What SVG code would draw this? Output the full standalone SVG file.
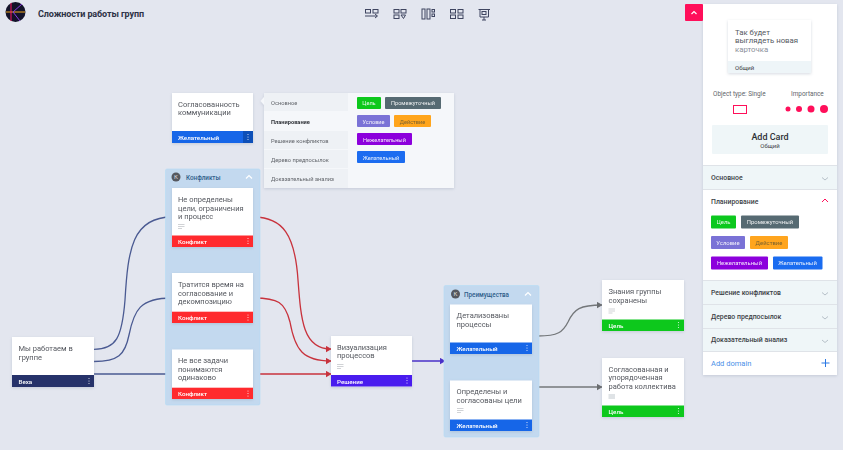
<svg xmlns="http://www.w3.org/2000/svg" width="843" height="450" viewBox="0 0 843 450">
<style>
text{font-family:Roboto,"Liberation Sans",sans-serif}
.t{font-size:7.5px;fill:#55585f}
.n{font-size:7.8px;fill:#55585f}
.f{font-size:6.2px;font-weight:500;fill:#fff}
.card{fill:#fff}
.dot{fill:#fff;opacity:.85}
.gh{fill:#c3d9ef;stroke:#b4dcf5;stroke-width:.6}
.gt{font-size:6.3px;font-weight:500;fill:#2f5d8a}
.gk{fill:#55585f}
.gkt{font-size:6px;fill:#ddd;text-anchor:middle}
.lines{stroke:#c5c8cc;stroke-width:.8}
.c{fill:none;stroke-width:1.3}
.b{stroke:#4a5a92}.r{stroke:#c8323c}.p{stroke:#4a30c8}.g{stroke:#74777a}
.tag{font-size:5.6px;fill:#fff;text-anchor:middle;opacity:.9}
.tg2{font-size:5.9px;fill:#fff;text-anchor:middle;opacity:.9}
.m{font-size:5.7px;fill:#62656b}
.s{font-size:6.9px;font-weight:500;fill:#3c3f46}
.chev{fill:none;stroke:#b6c0c8;stroke-width:1}
.sep{stroke:#dfe3e8;stroke-width:1}
.ic{fill:none;stroke:#3f4560;stroke-width:1}
</style>
<defs>
<marker id="ab" markerWidth="6" markerHeight="6" refX="4" refY="2.5" orient="auto"><path d="M0 0L4.500 2.500L0 5z" fill="#3e4f8e"/></marker>
<marker id="ar" markerWidth="6" markerHeight="6" refX="4" refY="2.5" orient="auto"><path d="M0 0L4.500 2.500L0 5z" fill="#c8323c"/></marker>
<marker id="ap" markerWidth="6" markerHeight="6" refX="4" refY="2.5" orient="auto"><path d="M0 0L4.500 2.500L0 5z" fill="#4a30c8"/></marker>
<marker id="ag" markerWidth="6" markerHeight="6" refX="4" refY="2.5" orient="auto"><path d="M0 0L4.500 2.500L0 5z" fill="#6a6d70"/></marker>
<filter id="sh" x="-10%" y="-10%" width="120%" height="125%"><feDropShadow dx="0" dy="1" stdDeviation="1.500" flood-color="#8c96aa" flood-opacity=".35"/></filter>
</defs>
<rect width="843" height="450" fill="#e3e6ef"/>

<g id="header">
<circle cx="15.500" cy="12" r="10" fill="#13132a"/>
<path d="M6 12H25" stroke="#f2a71b" stroke-width="1" fill="none"/>
<path d="M11 3V21" stroke="#ff1460" stroke-width="1" fill="none"/>
<path d="M22 4L13 12L20 21" stroke="#8a3ce0" stroke-width="1" fill="none"/>
<text x="38" y="17" font-size="9" font-weight="700" fill="#2c3145" textLength="106" lengthAdjust="spacing">Сложности работы групп</text>
<g class="ic">
<rect x="365.500" y="9.500" width="5" height="3.500"/><rect x="373" y="9.500" width="5" height="3.500"/><path d="M365 16H377M375 14L377.500 16L375 18"/>
<rect x="394" y="9.500" width="5" height="3.500"/><rect x="401" y="9.500" width="5" height="3.500"/><rect x="394" y="15" width="5" height="3.500"/><path d="M401 15H405.500L403.500 18.500Z"/>
<rect x="422" y="9" width="3" height="10"/><rect x="427" y="9" width="3" height="10"/><rect x="432" y="9.500" width="2.500" height="2.500"/><rect x="432" y="14" width="2.500" height="2.500"/>
<rect x="450.500" y="9.500" width="5" height="3.500"/><rect x="458" y="9.500" width="5" height="3.500"/><rect x="450.500" y="15" width="5" height="3.500"/><rect x="458" y="15" width="5" height="3.500"/>
<path d="M478.500 9.500H490M480 9.500V17H488.500V9.500M484 17V20M482 20H486"/><rect x="482" y="11.500" width="4" height="3"/>
</g>
</g>

<g id="connectors">
<path class="c b" marker-end="url(#ab)" d="M94 349.300C116 349.300 122 338 125 300C128 250 132 217 172 217"/>
<path class="c b" marker-end="url(#ab)" d="M94 361.500C118 361.500 125 355 129 335C134 310 140 298 172 298"/>
<path class="c b" marker-end="url(#ab)" d="M94 374H172"/>
<path class="c r" marker-end="url(#ar)" d="M253 217C283 217 295 235 298 280C301 320 303 349 331 349"/>
<path class="c r" marker-end="url(#ar)" d="M253 298C278 298 285 302 290 322C295 350 303 361 331 361"/>
<path class="c r" marker-end="url(#ar)" d="M253 374H331"/>
<path class="c p" marker-end="url(#ap)" d="M412 361H445"/>
<path class="c g" marker-end="url(#ag)" d="M538 336C558 336 563 332 568 322C574 309 580 305 602 305"/>
<path class="c g" marker-end="url(#ag)" d="M538 387H602"/>
</g>

<g id="card-soglasovannost" filter="url(#sh)">
<rect class="card" x="172" y="93" width="81" height="50"/>
<text class="t"><tspan x="178" y="106.500">Согласованность</tspan><tspan x="178" y="115">коммуникации</tspan></text>
<rect x="172" y="131" width="81" height="12" fill="#1766e8"/><rect x="243" y="131" width="10" height="12" fill="#0f4fb8"/>
<text class="f" x="178" y="139.500">Желательный</text>
<circle class="dot" cx="248" cy="134.500" r=".6"/><circle class="dot" cx="248" cy="137" r=".6"/><circle class="dot" cx="248" cy="139.500" r=".6"/>
</g>

<g id="popup" filter="url(#sh)">
<path d="M264 93H454V188H264V105L260.500 101L264 97Z" fill="#f5f7fa"/>
<rect x="264" y="93" width="84" height="18" fill="#eef1f5"/>
<rect x="264" y="131" width="84" height="18" fill="#eef1f5"/>
<rect x="264" y="150" width="84" height="18" fill="#eef1f5"/>
<rect x="264" y="169" width="84" height="19" fill="#eef1f5"/>
<text class="m" x="271" y="104.500">Основное</text>
<text class="m" x="271" y="124" font-weight="700" style="fill:#33363c">Планирование</text>
<text class="m" x="271" y="143">Решение конфликтов</text>
<text class="m" x="271" y="162">Дерево предпосылок</text>
<text class="m" x="271" y="181">Доказательный анализ</text>
<rect x="357" y="97" width="24" height="12" rx="1" fill="#0cc81e"/><text class="tag" x="369" y="105">Цель</text>
<rect x="385" y="97" width="56" height="12" rx="1" fill="#566a72"/><text class="tag" x="413" y="105">Промежуточный</text>
<rect x="357" y="115" width="33" height="12" rx="1" fill="#7a72d6"/><text class="tag" x="373.500" y="123.500">Условие</text>
<rect x="394" y="115" width="37" height="12" rx="1" fill="#ffa51e"/><text class="tag" x="412.500" y="123.500" style="fill:#6a5a30">Действие</text>
<rect x="357" y="133" width="55" height="12" rx="1" fill="#8c00dc"/><text class="tag" x="384.500" y="141.500">Нежелательный</text>
<rect x="357" y="151" width="48" height="12" rx="1" fill="#1a6cf0"/><text class="tag" x="381" y="159.500">Желательный</text>
</g>

<g id="group-konflikty">
<rect class="gh" x="165.500" y="169" width="94.500" height="236" rx="1.500"/>
<circle class="gk" cx="176" cy="177" r="4.500"/><text class="gkt" x="176" y="179">К</text>
<text class="gt" x="186" y="179.500">Конфликты</text>
<path d="M246 178.500L249 175.500L252 178.500" fill="none" stroke="#fff" stroke-width="1.200"/>
</g>
<g id="card-1" filter="url(#sh)">
<rect class="card" x="172" y="188" width="81" height="59"/>
<text class="t"><tspan x="178" y="202">Не определены</tspan><tspan x="178" y="210.500">цели, ограничения</tspan><tspan x="178" y="219">и процесс</tspan></text>
<path class="lines" d="M178 224.500H184.500M178 226.500H184.500M178 228.500H182"/>
<rect x="172" y="235.500" width="81" height="11.500" fill="#ff2a2e"/><text class="f" x="178" y="243.500">Конфликт</text>
<circle class="dot" cx="248" cy="238.500" r=".6"/><circle class="dot" cx="248" cy="241" r=".6"/><circle class="dot" cx="248" cy="243.500" r=".6"/>
</g>
<g id="card-2" filter="url(#sh)">
<rect class="card" x="172" y="273" width="81" height="50"/>
<text class="t"><tspan x="178" y="287">Тратится время на</tspan><tspan x="178" y="295.500">согласование и</tspan><tspan x="178" y="304">декомпозицию</tspan></text>
<rect x="172" y="311.700" width="81" height="11.300" fill="#ff2a2e"/><text class="f" x="178" y="320">Конфликт</text>
<circle class="dot" cx="248" cy="315" r=".6"/><circle class="dot" cx="248" cy="317.500" r=".6"/><circle class="dot" cx="248" cy="320" r=".6"/>
</g>
<g id="card-3" filter="url(#sh)">
<rect class="card" x="172" y="349.500" width="81" height="49.500"/>
<text class="t"><tspan x="178" y="363">Не все задачи</tspan><tspan x="178" y="371.500">понимаются</tspan><tspan x="178" y="380">одинаково</tspan></text>
<rect x="172" y="387.700" width="81" height="11.300" fill="#ff2a2e"/><text class="f" x="178" y="396">Конфликт</text>
<circle class="dot" cx="248" cy="391" r=".6"/><circle class="dot" cx="248" cy="393.500" r=".6"/><circle class="dot" cx="248" cy="396" r=".6"/>
</g>

<g id="card-veha" filter="url(#sh)">
<rect class="card" x="12" y="337" width="82" height="50"/>
<text class="t"><tspan x="18.500" y="351">Мы работаем в</tspan><tspan x="18.500" y="359.500">группе</tspan></text>
<rect x="12" y="375" width="82" height="12" fill="#25336b"/><text class="f" x="18.500" y="383.500">Веха</text>
<circle class="dot" cx="89" cy="378.500" r=".6"/><circle class="dot" cx="89" cy="381" r=".6"/><circle class="dot" cx="89" cy="383.500" r=".6"/>
</g>

<g id="card-reshenie" filter="url(#sh)">
<rect class="card" x="331" y="336" width="81" height="50.500"/>
<text class="t"><tspan x="337" y="349.500">Визуализация</tspan><tspan x="337" y="358">процессов</tspan></text>
<path class="lines" d="M337 364.500H343.500M337 366.500H343.500M337 368.500H341"/>
<rect x="331" y="375" width="81" height="11.500" fill="#4a1aee"/><text class="f" x="337" y="383.500">Решение</text>
<circle class="dot" cx="407" cy="378" r=".6"/><circle class="dot" cx="407" cy="380.500" r=".6"/><circle class="dot" cx="407" cy="383" r=".6"/>
</g>

<g id="group-preimushchestva">
<rect class="gh" x="444" y="285.500" width="95" height="151.500" rx="1.500"/>
<circle class="gk" cx="455.500" cy="294" r="4.500"/><text class="gkt" x="455.500" y="296">К</text>
<text class="gt" x="464" y="296.500">Преимущества</text>
<path d="M525 295.500L528 292.500L531 295.500" fill="none" stroke="#fff" stroke-width="1.200"/>
</g>
<g id="card-4" filter="url(#sh)">
<rect class="card" x="450" y="304.500" width="82" height="49.500"/>
<text class="t"><tspan x="456.500" y="318">Детализованы</tspan><tspan x="456.500" y="326.500">процессы</tspan></text>
<rect x="450" y="342.500" width="82" height="11.500" fill="#1766e8"/><text class="f" x="456.500" y="351">Желательный</text>
<circle class="dot" cx="527" cy="345.500" r=".6"/><circle class="dot" cx="527" cy="348" r=".6"/><circle class="dot" cx="527" cy="350.500" r=".6"/>
</g>
<g id="card-5" filter="url(#sh)">
<rect class="card" x="450" y="380.500" width="82" height="50.500"/>
<text class="t"><tspan x="456.500" y="394">Определены и</tspan><tspan x="456.500" y="403">согласованы цели</tspan></text>
<path class="lines" d="M457 408.500H463.500M457 410.500H463.500M457 412.500H461"/>
<rect x="450" y="419.500" width="82" height="11.500" fill="#1766e8"/><text class="f" x="456.500" y="428">Желательный</text>
<circle class="dot" cx="527" cy="422.500" r=".6"/><circle class="dot" cx="527" cy="425" r=".6"/><circle class="dot" cx="527" cy="427.500" r=".6"/>
</g>

<g id="card-6" filter="url(#sh)">
<rect class="card" x="602" y="280" width="82" height="51"/>
<text class="t"><tspan x="608.500" y="294">Знания группы</tspan><tspan x="608.500" y="302.500">сохранены</tspan></text>
<path class="lines" d="M608.500 309H615M608.500 311H615M608.500 313H612.500"/>
<rect x="602" y="319.500" width="82" height="11.500" fill="#0cc81e"/><text class="f" x="608.500" y="328">Цель</text>
<circle class="dot" cx="678.500" cy="322.500" r=".6"/><circle class="dot" cx="678.500" cy="325" r=".6"/><circle class="dot" cx="678.500" cy="327.500" r=".6"/>
</g>
<g id="card-7" filter="url(#sh)">
<rect class="card" x="602" y="358" width="82" height="59"/>
<text class="t"><tspan x="608.500" y="371.500">Согласованная и</tspan><tspan x="608.500" y="380">упорядоченная</tspan><tspan x="608.500" y="388.500">работа коллектива</tspan></text>
<rect x="608.500" y="394" width="6.500" height="5" fill="#dfe3e6"/>
<rect x="602" y="405.500" width="82" height="11.500" fill="#0cc81e"/><text class="f" x="608.500" y="414">Цель</text>
<circle class="dot" cx="678.500" cy="408.500" r=".6"/><circle class="dot" cx="678.500" cy="411" r=".6"/><circle class="dot" cx="678.500" cy="413.500" r=".6"/>
</g>

<g id="panel">
<rect x="703" y="4" width="134" height="371" fill="#fff" filter="url(#sh)"/>
<rect x="685" y="4" width="18" height="17" rx="1" fill="#ff0f5a"/>
<path d="M691.500 14L694 11.500L696.500 14" fill="none" stroke="#fff" stroke-width="1.200"/>
<g filter="url(#sh)"><rect x="728" y="20" width="83" height="53" fill="#fff"/><rect x="728" y="61" width="83" height="12" fill="#eef5f8"/></g>
<text class="n"><tspan x="735" y="34.500">Так будет</tspan><tspan x="735" y="43">выглядеть новая</tspan><tspan x="735" y="51.500" style="fill:#8b8f9a">карточка</tspan></text>
<text x="735" y="70" font-size="6" fill="#3c3f46">Общий</text>
<text x="713" y="96" font-size="6.400" fill="#62656b">Object type: Single</text>
<text x="791" y="96" font-size="6.400" fill="#62656b">Importance</text>
<rect x="733.500" y="105.500" width="13" height="8" fill="#fff" stroke="#ff0f5a"/>
<circle cx="788" cy="109" r="2.500" fill="#ff0f5a"/><circle cx="799" cy="109" r="3" fill="#ff0f5a"/><circle cx="811" cy="109" r="3.500" fill="#ff0f5a"/><circle cx="824" cy="109" r="4" fill="#ff0f5a"/>
<rect x="712" y="125" width="116" height="29" rx="1" fill="#eff6f8"/>
<text x="770" y="140" font-size="9" font-weight="500" fill="#2e3036" text-anchor="middle">Add Card</text>
<text x="770" y="148" font-size="6" fill="#3c3f46" text-anchor="middle">Общий</text>
<rect x="703" y="165" width="134" height="24" fill="#eff6f8"/>
<rect x="703" y="280" width="134" height="24" fill="#eff6f8"/>
<rect x="703" y="304" width="134" height="24" fill="#eff6f8"/>
<rect x="703" y="328" width="134" height="23" fill="#eff6f8"/>
<path class="sep" d="M703 165.500H837M703 189.500H837M703 280.500H837M703 304.500H837M703 328.500H837M703 351.500H837"/>
<text class="s" x="711" y="180">Основное</text>
<text class="s" x="711" y="204">Планирование</text>
<text class="s" x="711" y="295">Решение конфликтов</text>
<text class="s" x="711" y="318.500">Дерево предпосылок</text>
<text class="s" x="711" y="342">Доказательный анализ</text>
<path class="chev" d="M822 177.500L825 180L828 177.500M822 292.500L825 295L828 292.500M822 316.500L825 319L828 316.500M822 340L825 342.500L828 340"/>
<path d="M822 202L825 199L828 202" fill="none" stroke="#ff0f5a" stroke-width="1"/>
<rect x="711" y="215.500" width="25" height="13" rx="1" fill="#0cc81e"/><text class="tg2" x="723.500" y="224">Цель</text>
<rect x="741" y="215.500" width="58" height="13" rx="1" fill="#566a72"/><text class="tg2" x="770" y="224">Промежуточный</text>
<rect x="711" y="236" width="34" height="13" rx="1" fill="#7a72d6"/><text class="tg2" x="728" y="244.500">Условие</text>
<rect x="750" y="236" width="38" height="13" rx="1" fill="#ffa51e"/><text class="tg2" x="769" y="244.500" style="fill:#6a5a30">Действие</text>
<rect x="711" y="256.500" width="57" height="13" rx="1" fill="#8c00dc"/><text class="tg2" x="739.500" y="265">Нежелательный</text>
<rect x="773" y="256.500" width="49.500" height="13" rx="1" fill="#1a6cf0"/><text class="tg2" x="797.500" y="265">Желательный</text>
<text x="711" y="366" font-size="7.500" fill="#4a90e8">Add domain</text>
<path d="M821.500 363H829.500M825.500 359V367" fill="none" stroke="#2a78e4" stroke-width="1"/>
</g>
</svg>
